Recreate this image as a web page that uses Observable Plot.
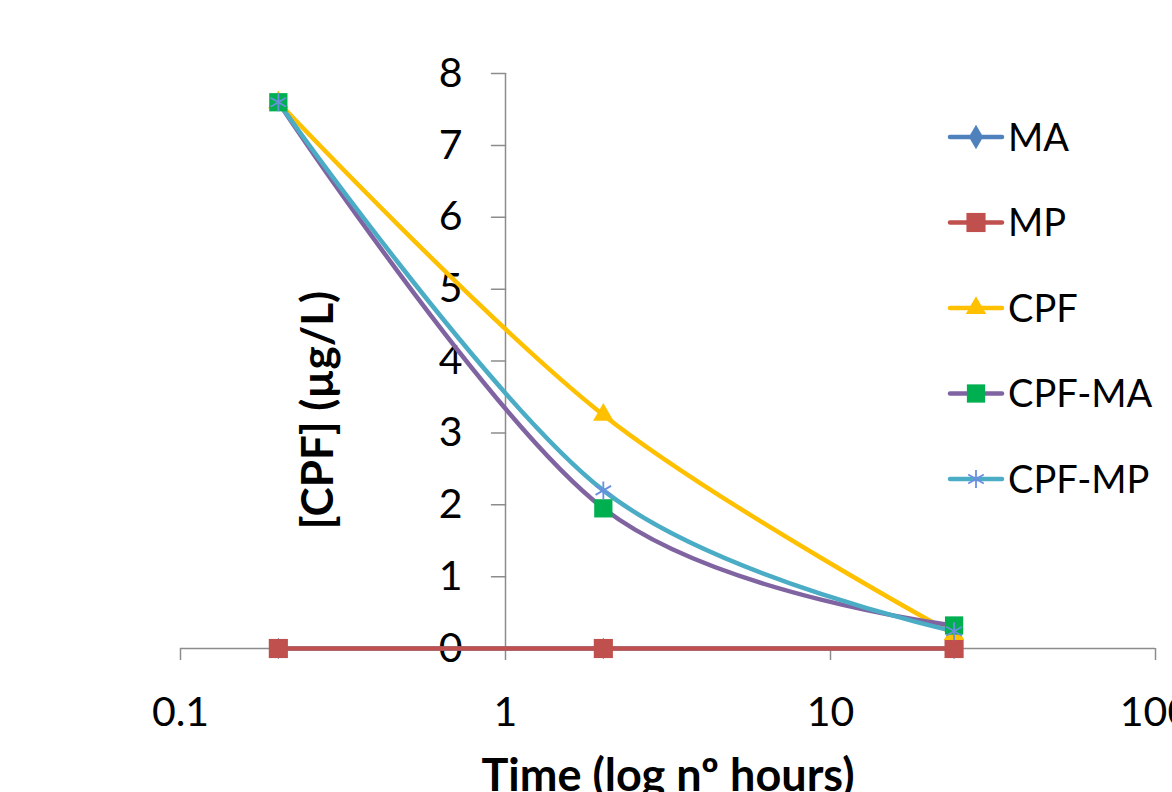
<!DOCTYPE html>
<html>
<head>
<meta charset="utf-8">
<script src="https://cdn.jsdelivr.net/npm/d3@7"></script>
<script src="https://cdn.jsdelivr.net/npm/@observablehq/plot@0.6"></script>
<style>
  html, body { margin: 0; padding: 0; background: #fff; overflow: hidden; }
  #wrap { position: relative; width: 1172px; height: 792px; }
  #legend { position: absolute; left: 940px; top: 100px; }
</style>
</head>
<body>
<div id="wrap"><div id="chart"></div><svg id="legend" width="232" height="420"></svg></div>
<script>
const times = [0.2, 2, 24];
const seriesNames = ["MA", "MP", "CPF", "CPF-MA", "CPF-MP"];
const valuesMA = [0, 0, 0];
const valuesMP = [0, 0, 0];
const valuesCPF = [7.6, 3.25, 0.2];
const valuesCPF_MA = [7.6, 1.95, 0.32];
const valuesCPF_MP = [7.6, 2.2, 0.24];
const xTicks = [0.1, 1, 10, 100];
const yTicks = [0, 1, 2, 3, 4, 5, 6, 7, 8];
const xLabel = "Time (log nº hours)";
const yLabel = "[CPF] (µg/L)";

const lineColors = {"MA": "#4F81BD", "MP": "#C0504D", "CPF": "#FFC000", "CPF-MA": "#8064A2", "CPF-MP": "#4BACC6"};
const markColors = {"MA": "#4F81BD", "MP": "#C0504D", "CPF": "#FFC000", "CPF-MA": "#00B050", "CPF-MP": "#6A8FE0"};
const symbols = {"MA": "diamond", "MP": "square", "CPF": "triangle", "CPF-MA": "square", "CPF-MP": "asterisk"};
const radii = {"MA": 6.5, "MP": 10.8, "CPF": 7.6, "CPF-MA": 10.3, "CPF-MP": 8.5};

const allValues = [valuesMA, valuesMP, valuesCPF, valuesCPF_MA, valuesCPF_MP];
const data = [];
seriesNames.forEach((s, i) => times.forEach((t, j) => data.push({series: s, time: t, value: allValues[i][j]})));

const FONT = "Lato, 'Open Sans', sans-serif";
const gray = "#8c8c8c";

const marks = [
  Plot.ruleY([0], {stroke: gray, strokeWidth: 1.5}),
  Plot.ruleX([1], {y1: 0, y2: 8, stroke: gray, strokeWidth: 1.5}),
  Plot.vector(yTicks, {x: () => 1, y: d => d, rotate: -90, length: 14, anchor: "start", stroke: gray, strokeWidth: 1.5, shape: {draw(ctx, l) { ctx.moveTo(0, 0); ctx.lineTo(0, -l); }}}),
  Plot.text(yTicks, {x: () => 1, y: d => d, text: d => String(d), dx: -43, textAnchor: "end", fontSize: 41, fill: "#000"}),
  Plot.axisX({ticks: xTicks, tickFormat: d => String(d), tickSize: 12, tickPadding: 36, fontSize: 41, stroke: gray, strokeWidth: 1.5, color: "#000", label: null})
];
seriesNames.forEach(s => {
  marks.push(Plot.line(data.filter(d => d.series === s), {x: "time", y: "value", stroke: lineColors[s], strokeWidth: 4.5, curve: "cardinal", tension: 0}));
});
seriesNames.forEach(s => {
  const sym = symbols[s];
  const opts = {x: "time", y: "value", symbol: sym, r: radii[s]};
  if (sym === "asterisk") { opts.stroke = markColors[s]; opts.strokeWidth = 1.8; opts.fill = "none"; }
  else { opts.fill = markColors[s]; opts.stroke = "none"; }
  marks.push(Plot.dot(data.filter(d => d.series === s), opts));
});

const chart = Plot.plot({
  width: 1172,
  height: 792,
  marginLeft: 180,
  marginRight: 17,
  marginTop: 73,
  marginBottom: 144,
  style: {fontFamily: FONT, background: "#fff", overflow: "hidden"},
  x: {type: "log", domain: [0.1, 100], axis: null},
  y: {domain: [0, 8], axis: null},
  marks
});
document.getElementById("chart").appendChild(chart);

const svg = d3.select(chart);
svg.append("text").text(yLabel)
  .attr("transform", "translate(333,410) rotate(-90)")
  .attr("text-anchor", "middle").attr("font-family", FONT).attr("font-weight", "bold")
  .attr("font-size", 44).attr("fill", "#000");
svg.append("text").text(xLabel)
  .attr("x", 668).attr("y", 791)
  .attr("text-anchor", "middle").attr("font-family", FONT).attr("font-weight", "bold")
  .attr("font-size", 45).attr("fill", "#000");

// Legend
const leg = d3.select("#legend");
const symMap = {"diamond": d3.symbolDiamond, "square": d3.symbolSquare, "triangle": d3.symbolTriangle, "asterisk": d3.symbolAsterisk};
seriesNames.forEach((s, i) => {
  const cy = 37 + i * 85.5;
  const g = leg.append("g");
  g.append("line").attr("x1", 10).attr("x2", 62).attr("y1", cy).attr("y2", cy)
    .attr("stroke", lineColors[s]).attr("stroke-width", 4.5).attr("stroke-linecap", "round");
  const r = symbols[s] === "diamond" ? 7.5 : radii[s];
  const path = d3.symbol(symMap[symbols[s]], Math.PI * r * r)();
  const p = g.append("path").attr("d", path).attr("transform", `translate(36,${cy})`);
  if (symbols[s] === "asterisk") p.attr("fill", "none").attr("stroke", markColors[s]).attr("stroke-width", 1.8);
  else p.attr("fill", markColors[s]);
  g.append("text").text(s).attr("x", 68).attr("y", cy).attr("dy", "0.36em")
    .attr("font-family", FONT).attr("font-size", 38).attr("fill", "#000");
});
</script>
</body>
</html>
